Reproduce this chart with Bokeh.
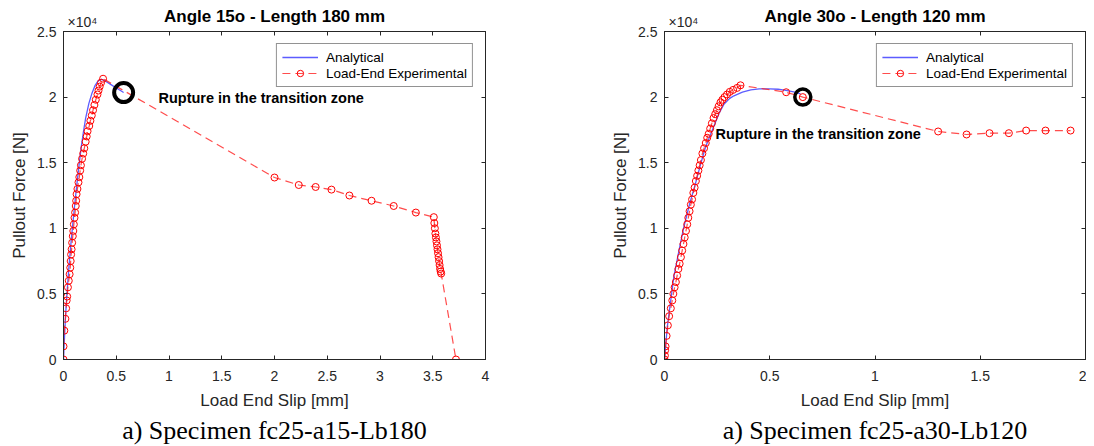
from bokeh.plotting import figure
from bokeh.models import Label, Legend, LegendItem, LinearAxis, FixedTicker, Range1d
from bokeh.layouts import row
from bokeh.models import Title
from bokeh.embed import file_html
from bokeh.resources import INLINE

FONT = "Liberation Sans"
SERIF = "Liberation Serif"
AX = "#262626"

# ---------------- data: Angle 15o - Length 180 mm ----------------
ana15_x = [0, 0.01, 0.02, 0.035, 0.05, 0.07, 0.09, 0.11, 0.13, 0.15, 0.17, 0.19, 0.21,
           0.24, 0.27, 0.30, 0.33, 0.36, 0.38, 0.45, 0.52, 0.57]
ana15_y = [0, 1800, 3400, 5300, 6900, 8800, 10500, 12100, 13600, 15000, 16300, 17400, 18400,
           19500, 20300, 20900, 21250, 21350, 21300, 20950, 20600, 20350]

exp15_x = [0, 0.0, 0.008, 0.018, 0.025, 0.03, 0.035, 0.042, 0.05, 0.058,
           0.064, 0.068, 0.072, 0.077, 0.082, 0.088, 0.093, 0.098, 0.104, 0.11,
           0.116, 0.12, 0.124, 0.132, 0.142, 0.15, 0.158, 0.165, 0.176, 0.187,
           0.197, 0.21, 0.22, 0.228, 0.244, 0.255, 0.268, 0.28, 0.293, 0.306,
           0.322, 0.332, 0.343, 0.356, 0.375,
           2.0, 2.23, 2.39, 2.54, 2.71, 2.92, 3.13, 3.34, 3.51,
           3.515, 3.52, 3.525, 3.53, 3.535, 3.54, 3.545, 3.55, 3.555, 3.56, 3.565, 3.57, 3.575, 3.58,
           3.72]
exp15_y = [0, 1000, 2200, 3100, 3900, 4500, 4800, 5500, 6000, 6500,
           7000, 7500, 8000, 8400, 8900, 9400, 9800, 10300, 10800, 11200,
           11700, 12100, 12600, 13000, 13500, 13900, 14400, 14800, 15300, 15700,
           16100, 16600, 17000, 17400, 17800, 18200, 18600, 19000, 19400, 19800,
           20200, 20500, 20800, 21100, 21400,
           13870, 13300, 13150, 12950, 12500, 12100, 11700, 11200, 10850,
           10400, 10000, 9600, 9300, 9000, 8700, 8400, 8100, 7800, 7500, 7200, 6900, 6700, 6550,
           0]
rupture15 = (0.57, 20350)

# ---------------- data: Angle 30o - Length 120 mm ----------------
ana30_x = [0, 0.013, 0.044, 0.07, 0.092, 0.12, 0.147, 0.17, 0.195, 0.215, 0.235, 0.26,
           0.282, 0.31, 0.33, 0.37, 0.41, 0.45, 0.50, 0.54, 0.583, 0.62, 0.646]
ana30_y = [0, 2460, 6270, 8400, 10100, 11900, 13400, 14800, 16200, 17000, 17800, 18800,
           19450, 19900, 20100, 20380, 20550, 20620, 20630, 20600, 20500, 20380, 20250]

exp30_x = [0, 0.002, 0.003, 0.005, 0.01, 0.016, 0.022, 0.03, 0.037, 0.042,
           0.048, 0.054, 0.06, 0.066, 0.072, 0.078, 0.084, 0.09, 0.096, 0.102,
           0.108, 0.113, 0.119, 0.125, 0.131, 0.137, 0.143, 0.149, 0.155, 0.161,
           0.167, 0.173, 0.18, 0.188, 0.196, 0.203, 0.21, 0.217, 0.225, 0.233,
           0.241, 0.249, 0.257, 0.266, 0.275, 0.285, 0.297, 0.31, 0.326, 0.345,
           0.361,
           0.578, 0.657, 1.30, 1.435, 1.544, 1.636, 1.718, 1.81, 1.929]
exp30_y = [0, 300, 700, 1000, 1800, 2600, 3300, 3900, 4500, 5000,
           5500, 5900, 6400, 6900, 7300, 7800, 8300, 8800, 9300, 9800,
           10300, 10800, 11300, 11800, 12200, 12700, 13100, 13600, 14000, 14400,
           14800, 15200, 15700, 16100, 16500, 16900, 17200, 17600, 18000, 18400,
           18700, 19000, 19300, 19600, 19800, 20000, 20200, 20400, 20550, 20700,
           20900,
           20370, 20000, 17380, 17150, 17250, 17250, 17450, 17450, 17450]
rupture30 = (0.657, 20000)

y_ticks = [0, 5000, 10000, 15000, 20000, 25000]
y_tick_labels = ["0", "0.5", "1", "1.5", "2", "2.5"]
exponent_text = "×10⁴"


def style_axis(ax, ticks, labels=None, show_labels=True, standoff=6):
    ax.ticker = FixedTicker(ticks=ticks)
    if labels is not None:
        ax.major_label_overrides = {t: l for t, l in zip(ticks, labels)}
    ax.axis_line_color = AX
    ax.axis_line_width = 1
    ax.major_tick_line_color = AX
    ax.major_tick_in = 4
    ax.major_tick_out = 0
    ax.minor_tick_line_color = None
    ax.major_label_text_font = FONT
    ax.major_label_text_font_size = "14px" if show_labels else "1px"
    ax.major_label_text_color = AX if show_labels else None
    ax.major_label_standoff = standoff if show_labels else 0
    ax.axis_label_text_font = FONT
    ax.axis_label_text_font_style = "normal"
    ax.axis_label_text_color = AX
    ax.axis_label_text_font_size = "17px"


def panel(title, caption, ana_x, ana_y, exp_x, exp_y, rupture, xmax, xticks,
          note_xy, border_left, border_right, frame_w):
    p = figure(width=border_left + frame_w + border_right, height=444,
               frame_width=frame_w, frame_height=328,
               min_border_left=border_left, min_border_right=border_right,
               min_border_top=31, min_border_bottom=85,
               x_range=Range1d(0, xmax), y_range=Range1d(0, 25000),
               output_backend="svg", toolbar_location=None, title=None)
    p.xgrid.visible = False
    p.ygrid.visible = False
    p.outline_line_color = AX
    p.background_fill_color = "white"
    p.border_fill_color = "white"

    xlabels = [f"{t:g}" for t in xticks]
    style_axis(p.xaxis[0], xticks, xlabels, standoff=11)
    style_axis(p.yaxis[0], y_ticks, y_tick_labels, standoff=7)
    p.xaxis.axis_label = "Load End Slip [mm]"
    p.yaxis.axis_label = "Pullout Force [N]"
    p.xaxis.axis_label_standoff = 7
    p.yaxis.axis_label_standoff = 5

    right = LinearAxis()
    style_axis(right, y_ticks, show_labels=False)
    p.add_layout(right, "right")

    # top axis: box ticks drawn as minor ticks; the single labelled major tick carries
    # the "x10^4" multiplier, and the axis label carries the title
    x_exp = 0.045 * xmax
    top = LinearAxis()
    top.ticker = FixedTicker(ticks=[x_exp], minor_ticks=xticks)
    top.major_label_overrides = {x_exp: exponent_text}
    top.axis_line_color = AX
    top.axis_line_width = 1
    top.major_tick_line_color = None
    top.minor_tick_line_color = AX
    top.minor_tick_in = 4
    top.minor_tick_out = 0
    top.major_tick_in = 0
    top.major_tick_out = 0
    top.major_label_text_font = FONT
    top.major_label_text_font_size = "14px"
    top.major_label_text_color = AX
    top.major_label_standoff = 2
    top.axis_label = title
    top.axis_label_text_font = FONT
    top.axis_label_text_font_size = "17px"
    top.axis_label_text_font_style = "bold"
    top.axis_label_text_color = "black"
    top.axis_label_standoff = -15
    p.add_layout(top, "above")

    cap = Title(text=caption, align="center", text_font=SERIF, text_font_size="26px",
                text_font_style="normal", text_color="black", standoff=2)
    p.add_layout(cap, "below")

    r_ana = p.line(ana_x, ana_y, line_color="#4040ff", line_width=1.3, line_alpha=0.85)
    r_line = p.line(exp_x, exp_y, line_color="#ff2020", line_width=1.2, line_alpha=0.8,
                    line_dash="8 5")
    r_pts = p.scatter(exp_x, exp_y, marker="circle", size=7, fill_color=None,
                      line_color="#ff0000", line_width=1)
    p.scatter([rupture[0]], [rupture[1]], marker="circle", size=19 if xmax > 3 else 16,
              fill_color=None, line_color="black", line_width=4 if xmax > 3 else 3.5)

    p.add_layout(Label(x=note_xy[0], y=note_xy[1], text="Rupture in the transition zone",
                       text_font=FONT, text_font_size="14.5px", text_font_style="bold",
                       text_color="black", text_baseline="middle", text_align="left"))

    legend = Legend(items=[LegendItem(label="Analytical", renderers=[r_ana]),
                           LegendItem(label="Load-End Experimental", renderers=[r_line, r_pts])],
                    location="top_right", margin=12, padding=5, spacing=0,
                    glyph_width=36, glyph_height=16, label_height=16, label_standoff=8,
                    label_text_font=FONT, label_text_font_size="13.5px", label_text_color="black",
                    border_line_color=AX, border_line_width=1,
                    background_fill_color="white", background_fill_alpha=1)
    p.add_layout(legend)
    return p


p1 = panel("Angle 15o - Length 180 mm", "a) Specimen fc25-a15-Lb180",
           ana15_x, ana15_y, exp15_x, exp15_y, rupture15, 4, [0, 0.5, 1, 1.5, 2, 2.5, 3, 3.5, 4],
           (0.9, 19900), 63, 15, 422)
p2 = panel("Angle 30o - Length 120 mm", "a) Specimen fc25-a30-Lb120",
           ana30_x, ana30_y, exp30_x, exp30_y, rupture30, 2, [0, 0.5, 1, 1.5, 2],
           (0.242, 17200), 164, 1, 421)

layout = row(p1, p2)
open("out.html", "w").write(file_html(layout, INLINE))
